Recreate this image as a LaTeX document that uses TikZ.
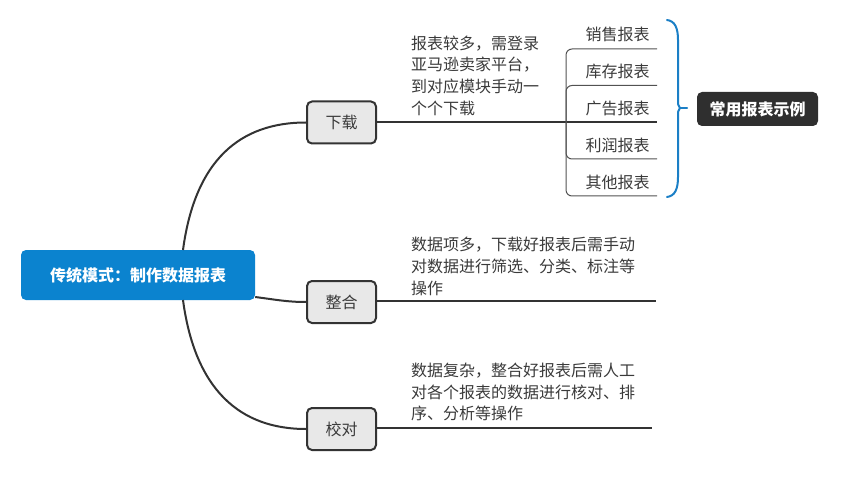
\documentclass[tikz,border=0pt]{standalone}
\usepackage{fontspec}
\setmainfont{Noto Sans CJK SC}
\definecolor{linec}{HTML}{333333}
\definecolor{txt}{HTML}{3A3A3A}
\definecolor{boxfill}{HTML}{E8E8E8}
\definecolor{rootfill}{HTML}{0B83CF}
\definecolor{darkfill}{HTML}{2F2F2F}
\definecolor{braceblue}{HTML}{1B7FC6}
\begin{document}
\begin{tikzpicture}[x=1pt,y=-1pt,
  conn/.style={draw=linec, line width=2pt},
  subline/.style={draw=linec, line width=1.1pt},
  fork/.style={draw=linec!85, line width=1pt, rounded corners=6pt},
  branch/.style={draw=linec, line width=2pt, fill=boxfill, rounded corners=5pt,
    minimum width=69pt, minimum height=42pt, inner sep=0pt, text=txt,
    font=\fontsize{16}{16}\selectfont},
  rootbox/.style={fill=rootfill, rounded corners=5pt, minimum width=234pt,
    minimum height=50pt, inner sep=0pt, text=white, font=\fontsize{16}{16}\selectfont\bfseries},
  darkbox/.style={fill=darkfill, rounded corners=5pt, minimum width=121pt,
    minimum height=34pt, inner sep=0pt, text=white, font=\fontsize{16}{16}\selectfont\bfseries},
  desc/.style={anchor=west, align=left, inner sep=0pt, text=txt,
    font=\fontsize{16}{21.7}\selectfont},
  item/.style={anchor=center, inner sep=0pt, text=txt, font=\fontsize{16}{16}\selectfont},
  brace/.style={draw=braceblue, line width=2pt, line cap=round}
]
\useasboundingbox (0,0) rectangle (845,478);

% nodes
\node[rootbox] (root) at (138,275) {传统模式：制作数据报表};
\node[branch] (dl) at (341.5,122.5) {下载};
\node[branch] (zh) at (341.5,302) {整合};
\node[branch] (jd) at (341.5,429) {校对};
\node[darkbox] (ex) at (757.5,109) {常用报表示例};

% connectors root -> branches
\draw[conn] (183,250) .. controls (195,160) and (240,122.5) .. (dl.west);
\draw[conn] (root.east |- 0,297) .. controls (278,300) and (288,302) .. (zh.west);
\draw[conn] (183,300) .. controls (195,390) and (240,429) .. (jd.west);

% description texts
\node[desc] (t1) at (411,75.5) {报表较多，需登录\\亚马逊卖家平台，\\到对应模块手动一\\个个下载};
\node[desc] (t2) at (411,266.5) {数据项多，下载好报表后需手动\\对数据进行筛选、分类、标注等\\操作};
\node[desc] (t3) at (411,392) {数据复杂，整合好报表后需人工\\对各个报表的数据进行核对、排\\序、分析等操作};

% branch lines
\coordinate (e1) at (657,122);
\coordinate (e2) at (656,301);
\coordinate (e3) at (652,428);
\draw[subline] (dl.east |- e1) -- (e1);
\draw[subline] (zh.east |- e2) -- (e2);
\draw[subline] (jd.east |- e3) -- (e3);

% sub items
\node[item] (s1) at (617.5,34) {销售报表};
\node[item] (s2) at (617.5,71) {库存报表};
\node[item] (s3) at (617.5,108) {广告报表};
\node[item] (s4) at (617.5,145) {利润报表};
\node[item] (s5) at (617.5,182) {其他报表};

\coordinate (f1) at (657,49);
\coordinate (f2) at (657,85.5);
\coordinate (f4) at (657,159);
\coordinate (f5) at (657,196);
\draw[fork] (f1) -- (566,49) -- (566,196) -- (f5);
\draw[fork] (f2) -- (566,85.5) -- (566,159) -- (f4);

% brace
\coordinate (btop) at (667,20);
\coordinate (bbot) at (667,197);
\coordinate (btip) at (680,108);
\coordinate (tick) at (687,108);
\draw[brace] (btop) .. controls (675,21) and (678,28) .. (678,40) -- (678,100)
  .. controls (678,105) .. (btip) .. controls (678,111) .. (678,116) -- (678,177)
  .. controls (678,189) and (675,196) .. (bbot);
\draw[brace] (btip) -- (tick);
\end{tikzpicture}
\end{document}
